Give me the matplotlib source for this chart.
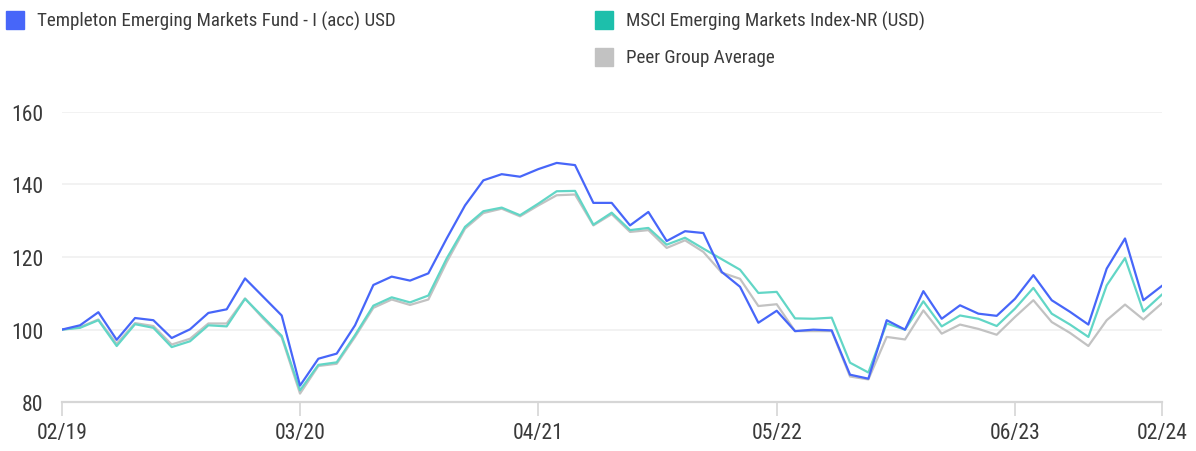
import os
import matplotlib
matplotlib.use("Agg")
import matplotlib.pyplot as plt
from matplotlib import font_manager as fm
from matplotlib.patches import Rectangle

# ---- data (monthly, 02/2019 .. 02/2024) ----
tick_labels = ["02/19", "03/20", "04/21", "05/22", "06/23", "02/24"]
tick_index = [0, 13, 26, 39, 52, 60]

fund = [100.0, 101.2, 104.8, 97.2, 103.2, 102.6, 97.7, 100.1, 104.6, 105.6,
        114.1, 109.0, 103.9, 84.6, 92.0, 93.4, 101.2, 112.3, 114.6, 113.5,
        115.5, 125.1, 134.2, 141.1, 142.8, 142.1, 144.2, 145.9, 145.3, 134.9,
        134.9, 128.7, 132.4, 124.4, 127.1, 126.6, 115.9, 111.8, 101.9, 105.2,
        99.6, 100.0, 99.8, 87.6, 86.5, 102.6, 100.0, 110.6, 103.0, 106.7,
        104.4, 103.8, 108.5, 115.0, 108.1, 104.9, 101.4, 116.8, 125.1, 108.1,
        112.0]

index_ = [100.0, 100.5, 102.6, 95.5, 101.5, 100.5, 95.2, 96.8, 101.2, 100.9,
          108.5, 103.4, 98.3, 83.3, 90.3, 91.0, 98.5, 106.6, 108.9, 107.5,
          109.4, 119.6, 128.3, 132.6, 133.6, 131.5, 134.7, 138.1, 138.2, 128.9,
          132.2, 127.4, 128.0, 123.4, 125.3, 122.3, 119.4, 116.5, 110.1, 110.4,
          103.1, 103.0, 103.3, 90.9, 88.2, 101.7, 100.0, 107.8, 100.9, 103.9,
          103.0, 101.0, 105.8, 111.5, 104.4, 101.4, 98.0, 112.2, 119.7, 105.0,
          109.6]

peer = [100.0, 100.7, 102.8, 96.1, 101.8, 101.0, 95.9, 97.5, 101.7, 101.7,
        108.6, 103.0, 97.9, 82.4, 90.0, 90.6, 98.0, 106.0, 108.3, 106.8,
        108.3, 118.6, 127.8, 132.1, 133.3, 131.2, 134.2, 137.0, 137.2, 128.7,
        131.8, 126.9, 127.4, 122.5, 124.6, 121.4, 115.7, 114.0, 106.5, 107.0,
        99.6, 99.6, 99.6, 87.1, 86.3, 98.0, 97.3, 105.3, 98.9, 101.4,
        100.2, 98.6, 103.5, 108.1, 102.1, 99.1, 95.5, 102.6, 106.9, 102.8,
        107.2]

labels = ["Templeton Emerging Markets Fund - I (acc) USD",
          "MSCI Emerging Markets Index-NR (USD)",
          "Peer Group Average"]

blue = "#4766f9"
teal_line = "#62d6c6"
teal_box = "#1dbfab"
grey = "#c2c2c2"
text_col = "#3a3a3a"

# ---- pick a condensed font if one is installed ----
def pick_condensed():
    prefs = ["robotocondensed-regular", "liberationsansnarrow-regular",
             "notosans-condensed.", "notosans-condensedregular",
             "notosans-semicondensed.", "notosans-semicondensedregular",
             "dejavusanscondensed.", "opensans-condensed"]
    files = [f.fname for f in fm.fontManager.ttflist]
    for p in prefs:
        for fn in files:
            if p in os.path.basename(fn).lower():
                return fm.FontProperties(fname=fn)
    return None

cond = pick_condensed()
if cond is None:
    cond = fm.FontProperties(family=["Roboto", "DejaVu Sans"])

W, H = 1196, 452
fig = plt.figure(figsize=(W / 100, H / 100), dpi=100)
ax = fig.add_axes([61.7 / W, 1 - 403.3 / H, 1100 / W, (403.3 - 112.7) / H])

x = list(range(len(fund)))
ax.plot(x, peer, color=grey, lw=1.6, zorder=3, solid_joinstyle='round')
ax.plot(x, index_, color=teal_line, lw=1.6, zorder=4, solid_joinstyle='round')
ax.plot(x, fund, color=blue, lw=1.6, zorder=5, solid_joinstyle='round')

ax.set_xlim(0, 60)
ax.set_ylim(80, 160)
ax.set_yticks([80, 100, 120, 140, 160])
ax.set_xticks(tick_index)
ax.set_xticklabels(tick_labels)

for yv in [100, 120, 140, 160]:
    ax.axhline(yv, color="#f0f0f0", lw=1.2, zorder=1)

for s in ["top", "right", "left"]:
    ax.spines[s].set_visible(False)
ax.spines["bottom"].set_color("#d6d6d6")
ax.spines["bottom"].set_linewidth(1.6)
ax.spines["bottom"].set_zorder(2)

ax.tick_params(axis="y", length=0, pad=13, labelcolor=text_col)
ax.tick_params(axis="x", length=10, width=1.2, color="#d6d6d6", pad=4,
               labelcolor=text_col)

renderer = fig.canvas.get_renderer()

def fit_size(sample, base, target_px):
    fp = cond.copy()
    fp.set_size(base)
    t = fig.text(0, 0, sample, fontproperties=fp)
    w = t.get_window_extent(renderer).width
    t.remove()
    return min(base * 1.1, base * target_px / w)

tick_size = fit_size("160", 16, 32)
leg_size = fit_size(labels[0], 15, 360)

for lab in ax.get_xticklabels() + ax.get_yticklabels():
    lab.set_fontproperties(cond)
    lab.set_fontsize(tick_size)

# ---- legend ----
entries = [(6 / W, 21, blue, labels[0]),
           (595 / W, 21, teal_box, labels[1]),
           (595 / W, 58, grey, labels[2])]
for xf, yc, col, lab in entries:
    sz = 18
    fig.patches.append(Rectangle((xf, 1 - (yc + sz / 2) / H), sz / W, sz / H,
                                 transform=fig.transFigure, color=col, figure=fig))
    fp = cond.copy()
    fp.set_size(leg_size)
    fig.text(xf + 31 / W, 1 - yc / H, lab, fontproperties=fp, color=text_col,
             va="center", ha="left")

fig.savefig("out.png", dpi=100)
